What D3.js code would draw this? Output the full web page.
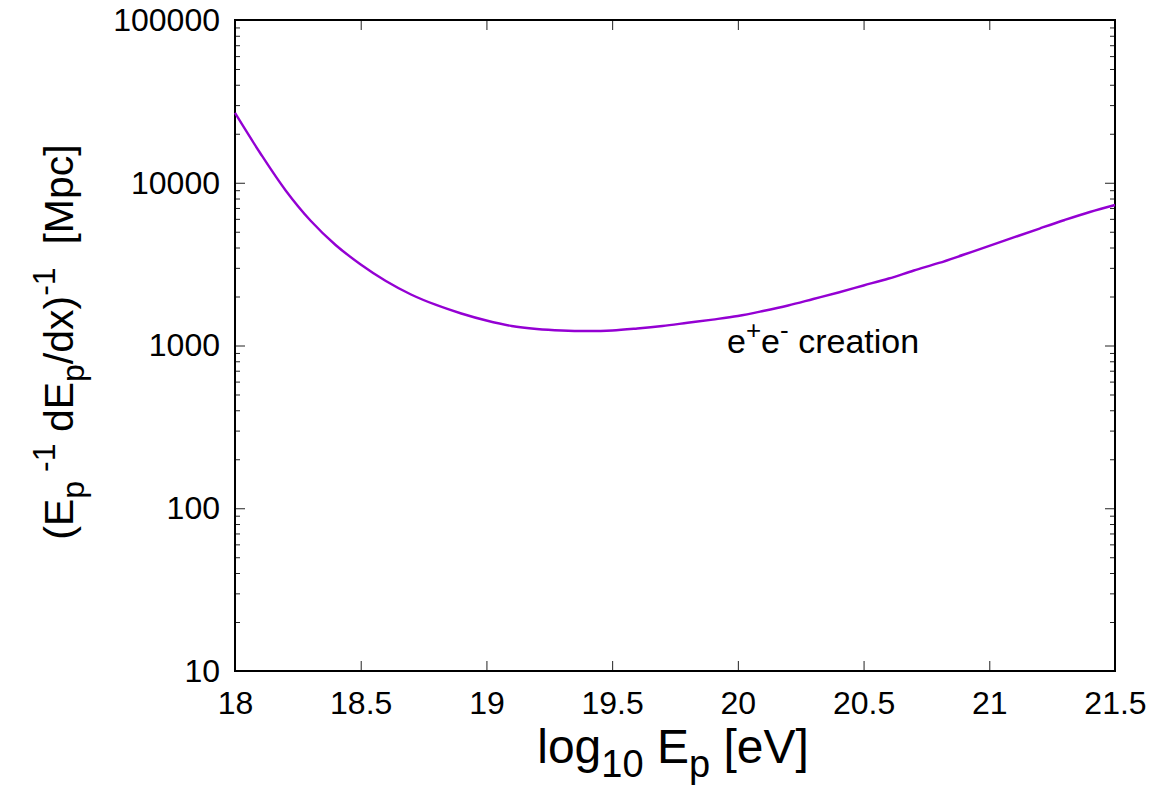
<!DOCTYPE html>
<html>
<head>
<meta charset="utf-8">
<script src="https://cdn.jsdelivr.net/npm/d3@7"></script>
<style>
  body { margin: 0; background: #fff; }
  svg { display: block; font-family: "Liberation Sans", Arial, sans-serif; }
  .pre { white-space: pre; }
</style>
</head>
<body>
<svg id="chart" width="1153" height="787"></svg>
<script>
// curve (log10 E in eV -> attenuation length in Mpc)
const logE = [18.0, 18.1, 18.2, 18.3, 18.4, 18.5, 18.6, 18.7, 18.8, 18.9,
              19.0, 19.1, 19.2, 19.3, 19.4, 19.5, 19.6, 19.7, 19.8, 19.9,
              20.0, 20.1, 20.2, 20.3, 20.4, 20.5, 20.6, 20.7, 20.8, 20.9,
              21.0, 21.1, 21.2, 21.3, 21.4, 21.5];
const lengthMpc = [26830, 15230, 9030, 5861, 4145, 3147, 2490, 2058, 1774, 1573,
                   1424, 1318, 1264, 1237, 1228, 1237, 1272, 1318, 1379, 1443,
                   1518, 1629, 1762, 1931, 2117, 2337, 2580, 2889, 3214, 3624,
                   4088, 4628, 5234, 5904, 6612, 7300];

const xTicks = [18, 18.5, 19, 19.5, 20, 20.5, 21, 21.5];
const yTicks = [10, 100, 1000, 10000, 100000];

const margin = { left: 235, right: 1115, top: 20, bottom: 671 };

const svg = d3.select('#chart');

const x = d3.scaleLinear().domain([18, 21.5]).range([margin.left, margin.right]);
const y = d3.scaleLog().domain([10, 100000]).range([margin.bottom, margin.top]);

// minor ticks on the log axis
const yMinor = [];
for (let d = 10; d < 100000; d *= 10) {
  for (let k = 2; k <= 9; k++) yMinor.push(d * k);
}

const tickColor = '#222';

// bottom & top axes (ticks pointing inward)
const xb = svg.append('g').attr('transform', `translate(0,${margin.bottom})`)
  .call(d3.axisBottom(x).tickValues(xTicks).tickSize(-10).tickPadding(20).tickFormat(d3.format('')));
const xt = svg.append('g').attr('transform', `translate(0,${margin.top})`)
  .call(d3.axisTop(x).tickValues(xTicks).tickSize(-10).tickFormat(''));

// left & right axes
const yl = svg.append('g').attr('transform', `translate(${margin.left},0)`)
  .call(d3.axisLeft(y).tickValues(yTicks).tickSize(-10).tickPadding(15).tickFormat(d3.format('d')));
const ylm = svg.append('g').attr('transform', `translate(${margin.left},0)`)
  .call(d3.axisLeft(y).tickValues(yMinor).tickSize(-5).tickFormat(''));
const yr = svg.append('g').attr('transform', `translate(${margin.right},0)`)
  .call(d3.axisRight(y).tickValues(yTicks).tickSize(-10).tickFormat(''));
const yrm = svg.append('g').attr('transform', `translate(${margin.right},0)`)
  .call(d3.axisRight(y).tickValues(yMinor).tickSize(-5).tickFormat(''));

[xb, xt, yl, ylm, yr, yrm].forEach(g => {
  g.select('.domain').remove();
  g.selectAll('.tick line').attr('stroke', tickColor).attr('stroke-width', 1);
  g.selectAll('.tick text').attr('fill', '#000').style('font-size', '32px');
});
xb.selectAll('.tick text').attr('dy', '0.71em');

// frame
svg.append('rect')
  .attr('x', margin.left).attr('y', margin.top)
  .attr('width', margin.right - margin.left)
  .attr('height', margin.bottom - margin.top)
  .attr('fill', 'none').attr('stroke', '#000').attr('stroke-width', 2);

// curve
const line = d3.line()
  .x((d, i) => x(logE[i]))
  .y(d => y(d))
  .curve(d3.curveCatmullRom);

svg.append('path')
  .datum(lengthMpc)
  .attr('d', line)
  .attr('fill', 'none')
  .attr('stroke', '#9400d3')
  .attr('stroke-width', 2.4);

// curve label
const lab = svg.append('text').attr('class', 'pre').attr('x', 727).attr('y', 353).style('font-size', '34px');
lab.append('tspan').text('e');
lab.append('tspan').attr('dy', -14).style('font-size', '26px').text('+');
lab.append('tspan').attr('dy', 14).text('e');
lab.append('tspan').attr('dy', -14).style('font-size', '26px').text('-');
lab.append('tspan').attr('dy', 14).text(' creation');

// x title
const xt2 = svg.append('text').attr('class', 'pre').attr('x', 673).attr('y', 763).attr('text-anchor', 'middle').style('font-size', '48px');
xt2.append('tspan').text('log');
xt2.append('tspan').attr('dy', 14).style('font-size', '38px').text('10');
xt2.append('tspan').attr('dy', -14).text(' E');
xt2.append('tspan').attr('dy', 14).style('font-size', '38px').text('p');
xt2.append('tspan').attr('dy', -14).text(' [eV]');

// y title
const yt = svg.append('text').attr('class', 'pre')
  .attr('transform', 'translate(73,342) rotate(-90)')
  .attr('text-anchor', 'middle').style('font-size', '41px');
yt.append('tspan').text('(E');
yt.append('tspan').attr('dy', 11).style('font-size', '32px').text('p');
yt.append('tspan').attr('dy', -29).style('font-size', '32px').text(' -1');
yt.append('tspan').attr('dy', 18).text(' dE');
yt.append('tspan').attr('dy', 11).style('font-size', '32px').text('p');
yt.append('tspan').attr('dy', -11).text('/dx)');
yt.append('tspan').attr('dy', -18).style('font-size', '32px').text('-1');
yt.append('tspan').attr('dy', 18).text('  [Mpc]');
</script>
</body>
</html>
